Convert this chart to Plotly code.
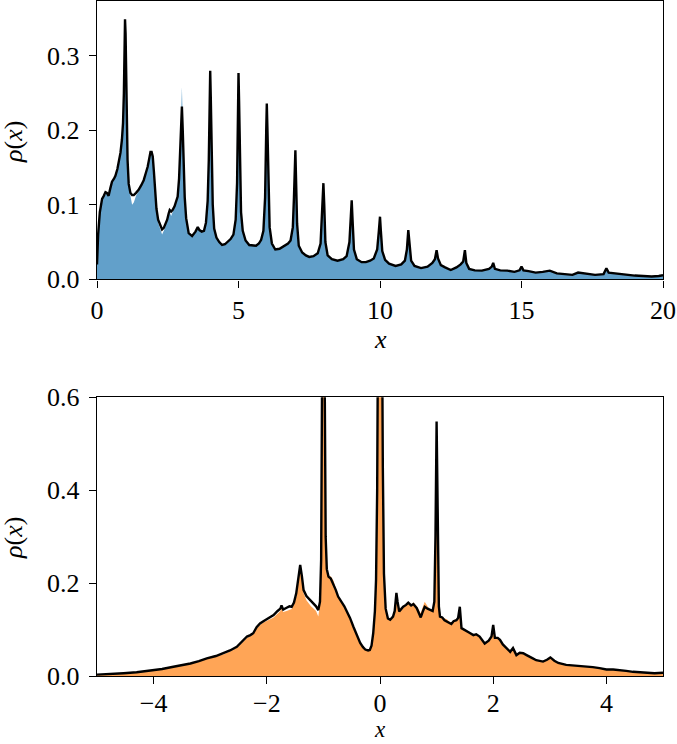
import plotly.graph_objects as go

# ---------------- top panel data ----------------
top_x = [0.00, 0.04, 0.10, 0.18, 0.24, 0.30, 0.35, 0.41, 0.47, 0.53, 0.60, 0.65, 0.72, 0.77, 0.83, 0.88,
         0.92, 0.95, 0.97, 0.99, 1.01, 1.03, 1.05, 1.08, 1.12, 1.18, 1.24, 1.30, 1.38, 1.47, 1.56, 1.65,
         1.72, 1.79, 1.85, 1.89, 1.93, 1.97, 2.01, 2.05, 2.10, 2.16, 2.24, 2.30, 2.36, 2.43, 2.48, 2.53,
         2.57, 2.62, 2.67, 2.74, 2.80, 2.85, 2.90, 2.94, 2.97, 3.00, 3.03, 3.06, 3.10, 3.15, 3.24, 3.36,
         3.48, 3.56, 3.62, 3.70, 3.78, 3.85, 3.91, 3.95, 3.98, 4.00, 4.02, 4.05, 4.09, 4.14, 4.22, 4.32,
         4.42, 4.52, 4.62, 4.72, 4.82, 4.90, 4.95, 4.98, 5.00, 5.02, 5.05, 5.09, 5.15, 5.25, 5.38, 5.50,
         5.62, 5.72, 5.80, 5.88, 5.94, 5.98, 6.00, 6.02, 6.05, 6.10, 6.18, 6.30, 6.45, 6.60, 6.75, 6.84,
         6.92, 6.96, 6.99, 7.01, 7.03, 7.07, 7.13, 7.25, 7.38, 7.50, 7.65, 7.80, 7.90, 7.96, 8.00, 8.03,
         8.07, 8.15, 8.30, 8.50, 8.70, 8.82, 8.92, 8.97, 9.00, 9.03, 9.08, 9.18, 9.35, 9.50, 9.65, 9.78,
         9.90, 9.96, 10.00, 10.03, 10.08, 10.18, 10.32, 10.55, 10.75, 10.88, 10.95, 11.00, 11.04, 11.10,
         11.22, 11.45, 11.68, 11.85, 11.94, 12.00, 12.05, 12.15, 12.30, 12.50, 12.70, 12.85, 12.94, 13.00,
         13.05, 13.15, 13.35, 13.60, 13.85, 13.95, 14.00, 14.06, 14.25, 14.50, 14.75, 14.93, 15.00, 15.07,
         15.25, 15.50, 15.75, 16.00, 16.25, 16.50, 16.80, 17.00, 17.30, 17.60, 17.90, 18.00, 18.08, 18.30,
         18.60, 19.00, 19.30, 19.60, 19.85, 20.00]
top_line = [0.020, 0.060, 0.090, 0.108, 0.112, 0.117, 0.116, 0.112, 0.122, 0.131, 0.135, 0.139, 0.148, 0.156, 0.170, 0.187,
            0.210, 0.250, 0.300, 0.349, 0.330, 0.270, 0.220, 0.160, 0.128, 0.116, 0.113, 0.113, 0.116, 0.120, 0.126, 0.133,
            0.142, 0.151, 0.163, 0.171, 0.171, 0.165, 0.145, 0.118, 0.095, 0.080, 0.071, 0.067, 0.069, 0.075, 0.080, 0.088,
            0.093, 0.091, 0.093, 0.098, 0.104, 0.111, 0.135, 0.170, 0.205, 0.232, 0.200, 0.155, 0.110, 0.082, 0.062, 0.058,
            0.064, 0.070, 0.066, 0.064, 0.065, 0.076, 0.105, 0.160, 0.240, 0.280, 0.245, 0.160, 0.100, 0.068, 0.056, 0.050,
            0.046, 0.047, 0.050, 0.054, 0.060, 0.080, 0.130, 0.220, 0.277, 0.240, 0.150, 0.090, 0.065, 0.052, 0.046, 0.045,
            0.045, 0.048, 0.053, 0.065, 0.110, 0.200, 0.236, 0.205, 0.130, 0.070, 0.048, 0.040, 0.041, 0.044, 0.048, 0.052,
            0.070, 0.110, 0.160, 0.173, 0.140, 0.075, 0.045, 0.036, 0.032, 0.030, 0.031, 0.035, 0.048, 0.090, 0.129, 0.100,
            0.050, 0.032, 0.027, 0.025, 0.027, 0.031, 0.050, 0.085, 0.106, 0.080, 0.040, 0.027, 0.023, 0.023, 0.025, 0.028,
            0.040, 0.065, 0.084, 0.065, 0.038, 0.026, 0.021, 0.018, 0.020, 0.025, 0.040, 0.066, 0.045, 0.025,
            0.018, 0.015, 0.017, 0.022, 0.027, 0.039, 0.028, 0.019, 0.016, 0.0125, 0.016, 0.020, 0.024, 0.039,
            0.022, 0.014, 0.012, 0.0116, 0.014, 0.017, 0.022, 0.014, 0.012, 0.0116, 0.010, 0.012, 0.017, 0.012,
            0.011, 0.009, 0.010, 0.0116, 0.008, 0.007, 0.006, 0.009, 0.007, 0.006, 0.007, 0.0148, 0.009, 0.008,
            0.0065, 0.005, 0.0045, 0.0038, 0.0045, 0.0054]
top_fill = [0.020, 0.060, 0.090, 0.108, 0.110, 0.114, 0.116, 0.112, 0.122, 0.131, 0.135, 0.139, 0.148, 0.156, 0.170, 0.187,
            0.210, 0.250, 0.300, 0.349, 0.330, 0.270, 0.220, 0.160, 0.125, 0.110, 0.100, 0.103, 0.112, 0.118, 0.124, 0.131,
            0.140, 0.149, 0.160, 0.171, 0.171, 0.165, 0.145, 0.118, 0.092, 0.076, 0.066, 0.060, 0.065, 0.073, 0.078, 0.086,
            0.090, 0.085, 0.091, 0.097, 0.103, 0.111, 0.135, 0.170, 0.215, 0.258, 0.200, 0.155, 0.110, 0.082, 0.062, 0.058,
            0.064, 0.070, 0.066, 0.064, 0.065, 0.076, 0.105, 0.160, 0.240, 0.280, 0.245, 0.160, 0.100, 0.068, 0.056, 0.050,
            0.046, 0.047, 0.050, 0.054, 0.060, 0.080, 0.130, 0.220, 0.277, 0.240, 0.150, 0.090, 0.065, 0.052, 0.046, 0.045,
            0.045, 0.048, 0.053, 0.065, 0.110, 0.200, 0.236, 0.205, 0.130, 0.070, 0.048, 0.040, 0.041, 0.044, 0.048, 0.052,
            0.070, 0.110, 0.160, 0.173, 0.140, 0.075, 0.045, 0.036, 0.032, 0.030, 0.031, 0.035, 0.048, 0.090, 0.129, 0.100,
            0.050, 0.032, 0.027, 0.025, 0.027, 0.031, 0.050, 0.085, 0.106, 0.080, 0.040, 0.027, 0.023, 0.023, 0.025, 0.028,
            0.040, 0.065, 0.084, 0.065, 0.038, 0.026, 0.021, 0.018, 0.020, 0.025, 0.040, 0.066, 0.045, 0.025,
            0.018, 0.015, 0.017, 0.022, 0.027, 0.039, 0.028, 0.019, 0.016, 0.0125, 0.016, 0.020, 0.024, 0.039,
            0.022, 0.014, 0.012, 0.0116, 0.014, 0.017, 0.022, 0.014, 0.012, 0.0116, 0.010, 0.012, 0.017, 0.012,
            0.011, 0.009, 0.010, 0.0116, 0.008, 0.007, 0.006, 0.009, 0.007, 0.006, 0.007, 0.0148, 0.009, 0.008,
            0.0065, 0.005, 0.0045, 0.0038, 0.0045, 0.0054]

# ---------------- bottom panel data ----------------
bot_x = [-5.00, -4.75, -4.53, -4.30, -4.06, -3.85, -3.65, -3.50, -3.35, -3.20, -3.06, -2.90, -2.76, -2.65, -2.53,
         -2.45, -2.35, -2.29, -2.24, -2.18, -2.12, -2.06, -2.00, -1.94, -1.88, -1.81, -1.76, -1.74, -1.71, -1.65,
         -1.60, -1.56, -1.52, -1.48, -1.44, -1.41, -1.38, -1.35, -1.30, -1.26, -1.22, -1.18, -1.13, -1.09, -1.06,
         -1.04, -1.02, -1.00, -0.98, -0.96, -0.94, -0.91, -0.87, -0.82, -0.78, -0.74, -0.68, -0.63, -0.59, -0.53,
         -0.47, -0.41, -0.35, -0.30, -0.26, -0.21, -0.18, -0.15, -0.12, -0.09, -0.07, -0.05, -0.03, 0.00, 0.03,
         0.05, 0.07, 0.10, 0.14, 0.18, 0.23, 0.26, 0.29, 0.31, 0.34, 0.38, 0.41, 0.46, 0.50, 0.55, 0.59, 0.65,
         0.72, 0.76, 0.79, 0.84, 0.88, 0.93, 0.96, 0.98, 1.00, 1.02, 1.04, 1.06, 1.10, 1.14, 1.18, 1.22, 1.26,
         1.30, 1.35, 1.38, 1.41, 1.44, 1.48, 1.53, 1.58, 1.65, 1.70, 1.76, 1.80, 1.85, 1.92, 1.97, 2.00, 2.03,
         2.08, 2.12, 2.17, 2.21, 2.26, 2.30, 2.35, 2.41, 2.47, 2.53, 2.59, 2.65, 2.70, 2.76, 2.82, 2.88, 2.95,
         3.01, 3.08, 3.15, 3.29, 3.40, 3.53, 3.65, 3.76, 3.88, 4.00, 4.12, 4.24, 4.35, 4.47, 4.60, 4.70, 4.85, 5.00]
bot_line = [0.003, 0.004, 0.006, 0.008, 0.011, 0.015, 0.020, 0.023, 0.027, 0.032, 0.038, 0.043, 0.049, 0.055, 0.063,
            0.072, 0.085, 0.088, 0.092, 0.105, 0.113, 0.118, 0.122, 0.126, 0.131, 0.140, 0.145, 0.152, 0.143, 0.147,
            0.150, 0.149, 0.158, 0.178, 0.210, 0.239, 0.215, 0.185, 0.172, 0.167, 0.160, 0.156, 0.150, 0.142, 0.160,
            0.250, 0.700, 1.200, 0.700, 0.300, 0.230, 0.214, 0.210, 0.198, 0.185, 0.171, 0.160, 0.150, 0.140, 0.125,
            0.106, 0.088, 0.071, 0.062, 0.057, 0.055, 0.056, 0.065, 0.092, 0.140, 0.207, 0.400, 0.900, 1.600, 0.900,
            0.450, 0.220, 0.145, 0.124, 0.121, 0.128, 0.140, 0.179, 0.160, 0.139, 0.145, 0.149, 0.153, 0.158, 0.152,
            0.155, 0.146, 0.126, 0.140, 0.149, 0.145, 0.142, 0.140, 0.160, 0.300, 0.548, 0.300, 0.150, 0.128, 0.126,
            0.120, 0.117, 0.114, 0.112, 0.118, 0.120, 0.125, 0.149, 0.103, 0.100, 0.095, 0.093, 0.088, 0.090, 0.085,
            0.078, 0.070, 0.076, 0.085, 0.110, 0.082, 0.082, 0.078, 0.068, 0.063, 0.058, 0.052, 0.060, 0.045, 0.050,
            0.049, 0.045, 0.042, 0.038, 0.034, 0.033, 0.031, 0.035, 0.040, 0.033, 0.028, 0.024, 0.023, 0.022, 0.020,
            0.019, 0.017, 0.014, 0.014, 0.013, 0.011, 0.009, 0.008, 0.006, 0.006, 0.007]
bot_fill = [0.003, 0.004, 0.006, 0.008, 0.011, 0.015, 0.019, 0.022, 0.026, 0.031, 0.037, 0.042, 0.047, 0.053, 0.061,
            0.070, 0.082, 0.086, 0.090, 0.102, 0.110, 0.115, 0.118, 0.122, 0.126, 0.134, 0.140, 0.146, 0.138, 0.140,
            0.143, 0.144, 0.155, 0.170, 0.205, 0.235, 0.210, 0.178, 0.163, 0.156, 0.150, 0.146, 0.140, 0.128, 0.155,
            0.250, 0.700, 1.200, 0.700, 0.300, 0.230, 0.214, 0.215, 0.205, 0.188, 0.171, 0.160, 0.152, 0.140, 0.125,
            0.106, 0.088, 0.071, 0.062, 0.057, 0.055, 0.056, 0.065, 0.092, 0.140, 0.207, 0.400, 0.900, 1.600, 0.900,
            0.450, 0.220, 0.145, 0.124, 0.121, 0.128, 0.140, 0.179, 0.160, 0.139, 0.145, 0.149, 0.153, 0.158, 0.152,
            0.158, 0.150, 0.135, 0.150, 0.160, 0.150, 0.142, 0.140, 0.160, 0.300, 0.548, 0.300, 0.150, 0.128, 0.126,
            0.124, 0.122, 0.118, 0.112, 0.120, 0.122, 0.125, 0.149, 0.103, 0.100, 0.095, 0.093, 0.088, 0.090, 0.085,
            0.078, 0.070, 0.076, 0.085, 0.110, 0.082, 0.082, 0.078, 0.068, 0.063, 0.058, 0.052, 0.060, 0.045, 0.050,
            0.049, 0.045, 0.042, 0.038, 0.034, 0.033, 0.031, 0.035, 0.040, 0.033, 0.028, 0.024, 0.023, 0.022, 0.020,
            0.019, 0.017, 0.014, 0.014, 0.013, 0.011, 0.009, 0.008, 0.006, 0.006, 0.007]

top_yticks = [0.0, 0.1, 0.2, 0.3]
top_xticks = [0, 5, 10, 15, 20]
bot_yticks = [0.0, 0.2, 0.4, 0.6]
bot_xticks = [-4, -2, 0, 2, 4]

W, H = 677, 744
ML, MR, MT, MB = 97, 14, 1, 68
PW, PH = W - ML - MR, H - MT - MB


def px(xp):
    return (xp - ML) / PW


def py(yp):
    return (H - MB - yp) / PH


BLUE = "#62A0CA"
ORANGE = "#FFA556"
FONT = "Liberation Serif, Times New Roman, serif"

fig = go.Figure()
fig.add_trace(go.Scatter(x=top_x, y=top_fill, mode="lines", fill="tozeroy", fillcolor=BLUE,
                         line=dict(width=0, color=BLUE), xaxis="x", yaxis="y", showlegend=False, hoverinfo="skip"))
fig.add_trace(go.Scatter(x=top_x, y=top_line, mode="lines", line=dict(color="black", width=2.4),
                         xaxis="x", yaxis="y", showlegend=False))
fig.add_trace(go.Scatter(x=bot_x, y=bot_fill, mode="lines", fill="tozeroy", fillcolor=ORANGE,
                         line=dict(width=0, color=ORANGE), xaxis="x2", yaxis="y2", showlegend=False, hoverinfo="skip"))
fig.add_trace(go.Scatter(x=bot_x, y=bot_line, mode="lines", line=dict(color="black", width=2.4),
                         xaxis="x2", yaxis="y2", showlegend=False))

axis_common = dict(showline=True, linecolor="black", linewidth=1.4, mirror=True, ticks="outside",
                   ticklen=7, tickwidth=1.3, tickcolor="black", showgrid=False, zeroline=False,
                   automargin=False,
                   tickfont=dict(family=FONT, size=26, color="black"))

fig.update_layout(
    width=W, height=H,
    margin=dict(l=ML, r=MR, t=MT, b=MB, autoexpand=False),
    paper_bgcolor="white", plot_bgcolor="white",
    xaxis=dict(domain=[0, 1], range=[0, 20], tickvals=top_xticks, anchor="y", **axis_common),
    yaxis=dict(domain=[py(279.3), 1], range=[0, 0.3735], tickvals=top_yticks, tickformat=".1f",
               anchor="x", ticklabelstandoff=4, **axis_common),
    xaxis2=dict(domain=[0, 1], range=[-5, 5], tickvals=bot_xticks, anchor="y2",
                ticklabelstandoff=-3, **axis_common),
    yaxis2=dict(domain=[0, py(397.3)], range=[0, 0.6], tickvals=bot_yticks, tickformat=".1f",
                anchor="x2", ticklabelstandoff=4, **axis_common),
)

lab_font = dict(family=FONT, size=26, color="black")
annots = [
    dict(text="<i>x</i>", x=px(380), y=py(339), xanchor="center", yanchor="middle", font=lab_font),
    dict(text="<i>x</i>", x=px(380), y=py(744), xanchor="center", yanchor="bottom",
         font=dict(family=FONT, size=23, color="black")),
    dict(text="<i>ρ</i>(<i>x</i>)", x=px(13), y=py(142), xanchor="center", yanchor="middle", textangle=-90,
         font=lab_font),
    dict(text="<i>ρ</i>(<i>x</i>)", x=px(13), y=py(538), xanchor="center", yanchor="middle", textangle=-90,
         font=lab_font),
]
for a in annots:
    fig.add_annotation(xref="paper", yref="paper", showarrow=False, **a)

fig.write_html("out.html", config={"displayModeBar": False},
               post_script="document.body.style.margin='0';")
